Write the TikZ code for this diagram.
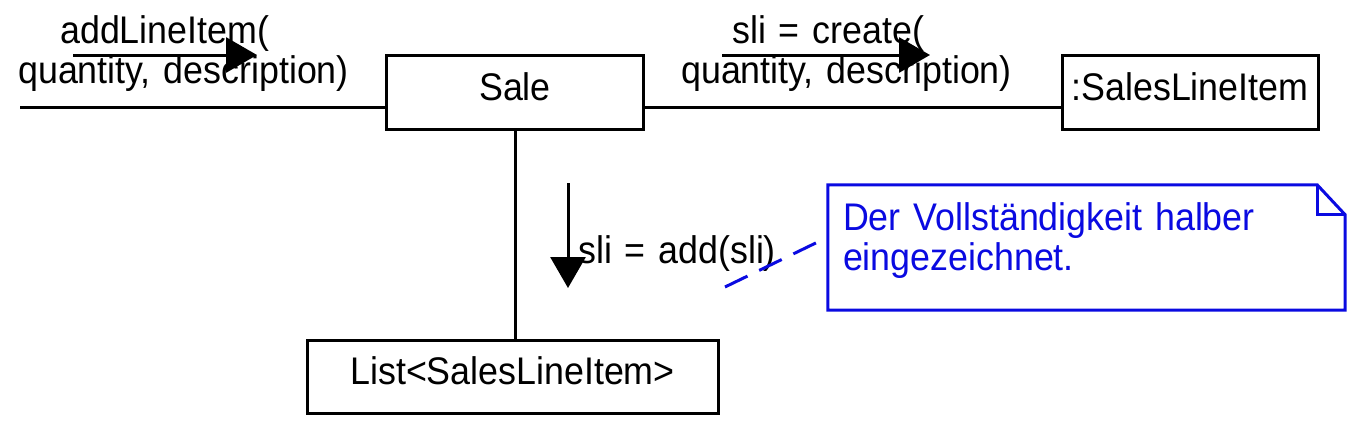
\documentclass[tikz,border=0pt]{standalone}
\usepackage{fontspec}
\setmainfont{Liberation Sans}[FakeStretch=0.93]
\usetikzlibrary{arrows.meta}
\definecolor{noteblue}{RGB}{10,10,225}

\begin{document}
\begin{tikzpicture}[
    x=1pt, y=-1pt,
    every node/.style={font=\fontsize{38.5}{40}\selectfont},
    obj/.style={draw, line width=3pt, text height=26pt, text depth=10pt, minimum height=74pt, inner sep=0pt},
    link/.style={line width=3pt},
    msg/.style={line width=3pt, -{Triangle[length=31pt,width=35pt]}},
    msglabel/.style={inner sep=0pt, align=left, text width=350pt, anchor=base west},
    notebox/.style={text=noteblue, text width=487pt, align=left, minimum width=517pt, minimum height=125pt, text height=26pt, text depth=61pt, inner sep=0pt},
    noteline/.style={draw=noteblue, line width=3pt},
    notelink/.style={draw=noteblue, line width=3pt, dash pattern=on 25pt off 13pt}
]
\useasboundingbox (0,0) rectangle (1353,439);

\node[obj, minimum width=257pt] (sale) at (515,92) {Sale};
\node[obj, minimum width=256pt] (sli) at (1190,92) {:SalesLineItem};
\node[obj, minimum width=411pt, minimum height=73pt] (list) at (512.5,376.5) {List<SalesLineItem>};
\node[notebox] (note) at (1086.5,247.5) {Der Vollständigkeit halber\\eingezeichnet.};

\coordinate (caller) at (20,107);
\draw[link] (caller) -- (caller -| sale.west);
\draw[link] ([yshift=-15pt]sale.east) -- ([yshift=-15pt]sli.west);
\draw[link] (sale.south) -- (sale.south |- list.north);

\node[msglabel] (addlbl) at (18,43) {\hspace*{42pt}addLineItem(\\quantity, description)};
\node[msglabel] (createlbl) at (681,43) {\hspace*{51pt}sli = create(\\quantity, description)};
\node[msglabel] (addslilbl) at (578,263) {sli = add(sli)};

\coordinate (addfrom) at (73,55);
\coordinate (addto) at (257,55);
\coordinate (createfrom) at (722,55);
\coordinate (createto) at (930,55);
\coordinate (slifrom) at (568,183);
\coordinate (slito) at (568,288);
\draw[msg] (addfrom) -- (addto);
\draw[msg] (createfrom) -- (createto);
\draw[msg] (slifrom) -- (slito);

\draw[noteline, line join=miter] (note.north west) -- ([xshift=-28pt]note.north east)
    -- ([yshift=-30pt]note.north east) -- (note.south east) -- (note.south west) -- cycle;
\draw[noteline] ([xshift=-28pt]note.north east) |- ([yshift=-30pt]note.north east);
\coordinate (notefoot) at (725,287);
\draw[notelink] (notefoot) -- ([xshift=-11pt,yshift=5pt]note.west);
\end{tikzpicture}
\end{document}
